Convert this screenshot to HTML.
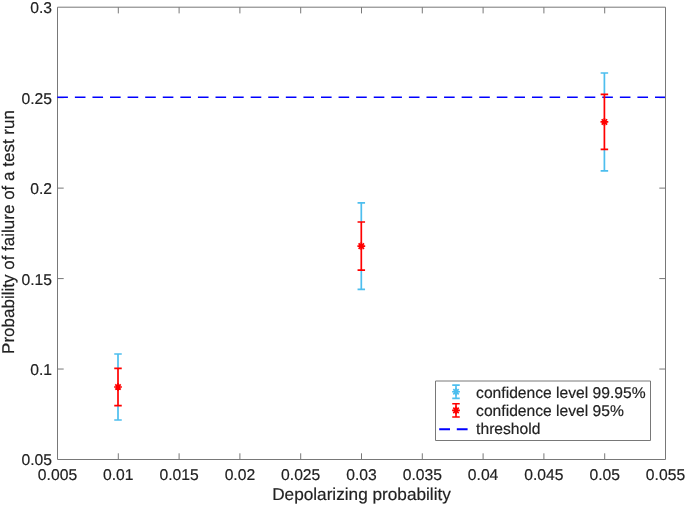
<!DOCTYPE html>
<html><head><meta charset="utf-8"><style>
html,body{margin:0;padding:0;background:#fff;width:685px;height:506px;overflow:hidden}
svg{display:block;will-change:transform}
text{font-family:"Liberation Sans",sans-serif;fill:#222;stroke:#222;stroke-width:0.18px;text-rendering:geometricPrecision}
</style></head><body>
<svg width="685" height="506" viewBox="0 0 685 506">
<rect x="0" y="0" width="685" height="506" fill="#fff"/>
<path d="M118.30 459.50V453.30M118.30 7.20V13.40M179.10 459.50V453.30M179.10 7.20V13.40M239.90 459.50V453.30M239.90 7.20V13.40M300.70 459.50V453.30M300.70 7.20V13.40M361.50 459.50V453.30M361.50 7.20V13.40M422.30 459.50V453.30M422.30 7.20V13.40M483.10 459.50V453.30M483.10 7.20V13.40M543.90 459.50V453.30M543.90 7.20V13.40M604.70 459.50V453.30M604.70 7.20V13.40M57.50 369.04H63.70M665.50 369.04H659.30M57.50 278.58H63.70M665.50 278.58H659.30M57.50 188.12H63.70M665.50 188.12H659.30M57.50 97.66H63.70M665.50 97.66H659.30" stroke="#787878" stroke-width="1" fill="none"/>
<path d="M57.5 7.2V459.5H665.5V7.2Z" stroke="#787878" stroke-width="1" fill="none"/>
<g font-size="15.7" text-anchor="end">
<text x="52.0" y="465.45">0.05</text>
<text x="52.0" y="374.99">0.1</text>
<text x="52.0" y="284.53">0.15</text>
<text x="52.0" y="194.07">0.2</text>
<text x="52.0" y="103.61">0.25</text>
<text x="52.0" y="13.15">0.3</text>
</g>
<g font-size="15.7" text-anchor="middle">
<text x="57.50" y="479.65">0.005</text>
<text x="118.30" y="479.65">0.01</text>
<text x="179.10" y="479.65">0.015</text>
<text x="239.90" y="479.65">0.02</text>
<text x="300.70" y="479.65">0.025</text>
<text x="361.50" y="479.65">0.03</text>
<text x="422.30" y="479.65">0.035</text>
<text x="483.10" y="479.65">0.04</text>
<text x="543.90" y="479.65">0.045</text>
<text x="604.70" y="479.65">0.05</text>
<text x="665.50" y="479.65">0.055</text>
</g>
<text x="361.5" y="500.35" font-size="17.2" text-anchor="middle">Depolarizing probability</text>
<text transform="translate(14.3 232) rotate(-90)" font-size="17" text-anchor="middle">Probability of failure of a test run</text>
<line x1="57.3" y1="97.25" x2="665" y2="97.25" stroke="#0000ff" stroke-width="1.7" stroke-dasharray="10.6 6.98"/>
<path d="M118.0 354.00V368.30M118.0 405.70V420.00M114.25 354.00H121.75M114.25 420.00H121.75" stroke="#4dbeee" stroke-width="1.7" fill="none"/>
<path d="M361.3 202.90V222.00M361.3 270.20V289.30M357.55 202.90H365.05M357.55 289.30H365.05" stroke="#4dbeee" stroke-width="1.7" fill="none"/>
<path d="M604.4 73.00V94.45M604.4 149.45V170.90M600.65 73.00H608.15M600.65 170.90H608.15" stroke="#4dbeee" stroke-width="1.7" fill="none"/>
<path d="M118.0 368.30V405.70M114.25 368.30H121.75M114.25 405.70H121.75" stroke="#ff0000" stroke-width="1.7" fill="none"/>
<path d="M114.1 387.0H121.9M118.0 383.1V390.9M115.3 384.3L120.7 389.7M115.3 389.7L120.7 384.3" stroke="#ff0000" stroke-width="1.7" fill="none"/><circle cx="118.0" cy="387.0" r="1.9" fill="#ff0000"/>
<path d="M361.3 222.00V270.20M357.55 222.00H365.05M357.55 270.20H365.05" stroke="#ff0000" stroke-width="1.7" fill="none"/>
<path d="M357.40000000000003 246.1H365.2M361.3 242.2V250.0M358.6 243.4L364.0 248.79999999999998M358.6 248.79999999999998L364.0 243.4" stroke="#ff0000" stroke-width="1.7" fill="none"/><circle cx="361.3" cy="246.1" r="1.9" fill="#ff0000"/>
<path d="M604.4 94.45V149.45M600.65 94.45H608.15M600.65 149.45H608.15" stroke="#ff0000" stroke-width="1.7" fill="none"/>
<path d="M600.5 121.95H608.3M604.4 118.05V125.85000000000001M601.6999999999999 119.25L607.1 124.65M601.6999999999999 124.65L607.1 119.25" stroke="#ff0000" stroke-width="1.7" fill="none"/><circle cx="604.4" cy="121.95" r="1.9" fill="#ff0000"/>
<path d="M435.5 381H650.5V440.5H435.5Z" fill="#fff" stroke="#787878" stroke-width="1"/>
<path d="M456.0 385.15V398.35M452.25 385.15H459.75M452.25 398.35H459.75" stroke="#4dbeee" stroke-width="1.6" fill="none"/>
<path d="M452.1 391.75H459.9M456.0 387.85V395.65M453.3 389.05L458.7 394.45M453.3 394.45L458.7 389.05" stroke="#4dbeee" stroke-width="1.7" fill="none"/><circle cx="456.0" cy="391.75" r="1.9" fill="#4dbeee"/>
<path d="M456.0 403.80V417.00M452.25 403.80H459.75M452.25 417.00H459.75" stroke="#ff0000" stroke-width="1.6" fill="none"/>
<path d="M452.1 410.4H459.9M456.0 406.5V414.29999999999995M453.3 407.7L458.7 413.09999999999997M453.3 413.09999999999997L458.7 407.7" stroke="#ff0000" stroke-width="1.7" fill="none"/><circle cx="456.0" cy="410.4" r="1.9" fill="#ff0000"/>
<line x1="439.2" y1="429.2" x2="468" y2="429.2" stroke="#0000ff" stroke-width="2" stroke-dasharray="10.8 6.8"/>
<g font-size="15.65">
<text x="476.1" y="397.7">confidence level 99.95%</text>
<text x="476.1" y="415.6">confidence level 95%</text>
<text x="476.1" y="433.9">threshold</text>
</g>
</svg>
</body></html>
